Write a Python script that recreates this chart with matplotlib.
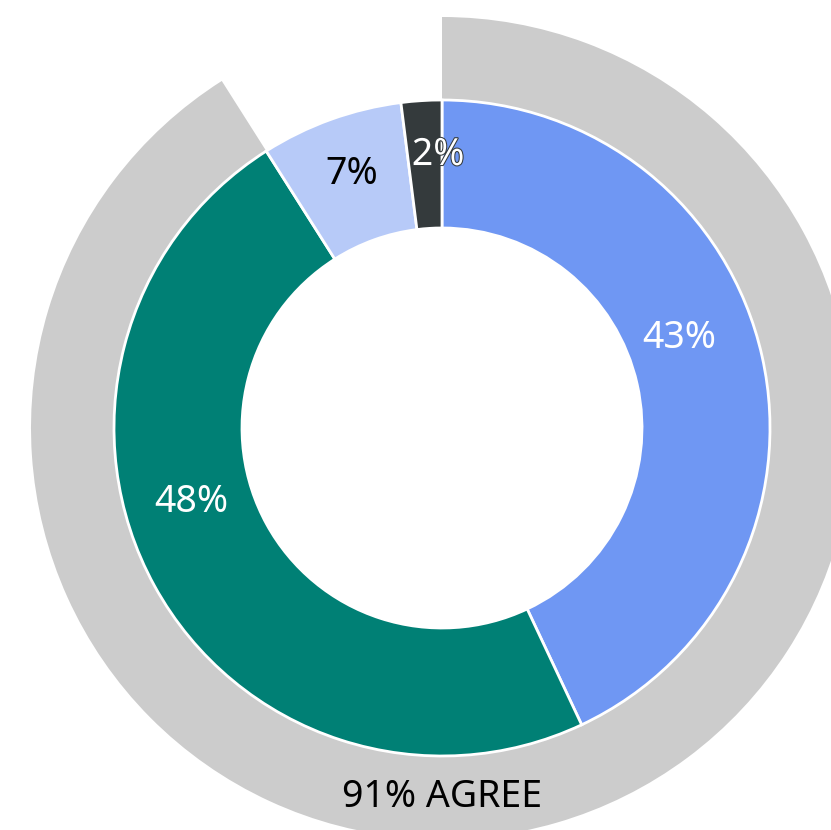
import matplotlib.pyplot as plt
import matplotlib.patheffects as pe
import numpy as np

# inner ring
labels = ['43%', '48%', '7%', '2%']
values = [43, 48, 7, 2]
colors = ['#6f97f3', '#008075', '#b7caf8', '#343a3c']

# outer ring (agree total)
agree = 91
agree_label = '91% AGREE'

plt.rcParams['font.family'] = ['Noto Sans', 'DejaVu Sans']

fig = plt.figure(figsize=(8.31, 8.30), dpi=100)
ax = fig.add_axes([0, 0, 1, 1])

cx, cy = 442, 402

ax.pie([agree, 100 - agree], colors=['#cccccc', 'none'], radius=411, center=(cx, cy),
       startangle=90, counterclock=False, frame=True,
       wedgeprops=dict(width=85, linewidth=0))
ax.pie(values, colors=colors, radius=328, center=(cx, cy),
       startangle=90, counterclock=False, frame=True,
       wedgeprops=dict(width=128, edgecolor='white', linewidth=2))
ax.set_xlim(0, 831)
ax.set_ylim(0, 830)
ax.set_aspect('equal')
ax.axis('off')

# label placement (angle in degrees, radius in px)
label_pos = [(20.7, 254), (196.5, 261), (109.5, 269), (90.8, 273)]
label_colors = ['white', 'white', 'black', 'white']
for lab, (a, r), c in zip(labels, label_pos, label_colors):
    x = cx + r * np.cos(np.radians(a))
    y = cy + r * np.sin(np.radians(a))
    t = ax.text(x, y, lab, ha='center', va='center', fontsize=27, color=c)
    if lab == '2%':
        t.set_path_effects([pe.withStroke(linewidth=1.5, foreground='#343a3c')])

ax.text(cx, 33, agree_label, ha='center', va='center', fontsize=27, color='black')

fig.savefig('out.png', dpi=100)
